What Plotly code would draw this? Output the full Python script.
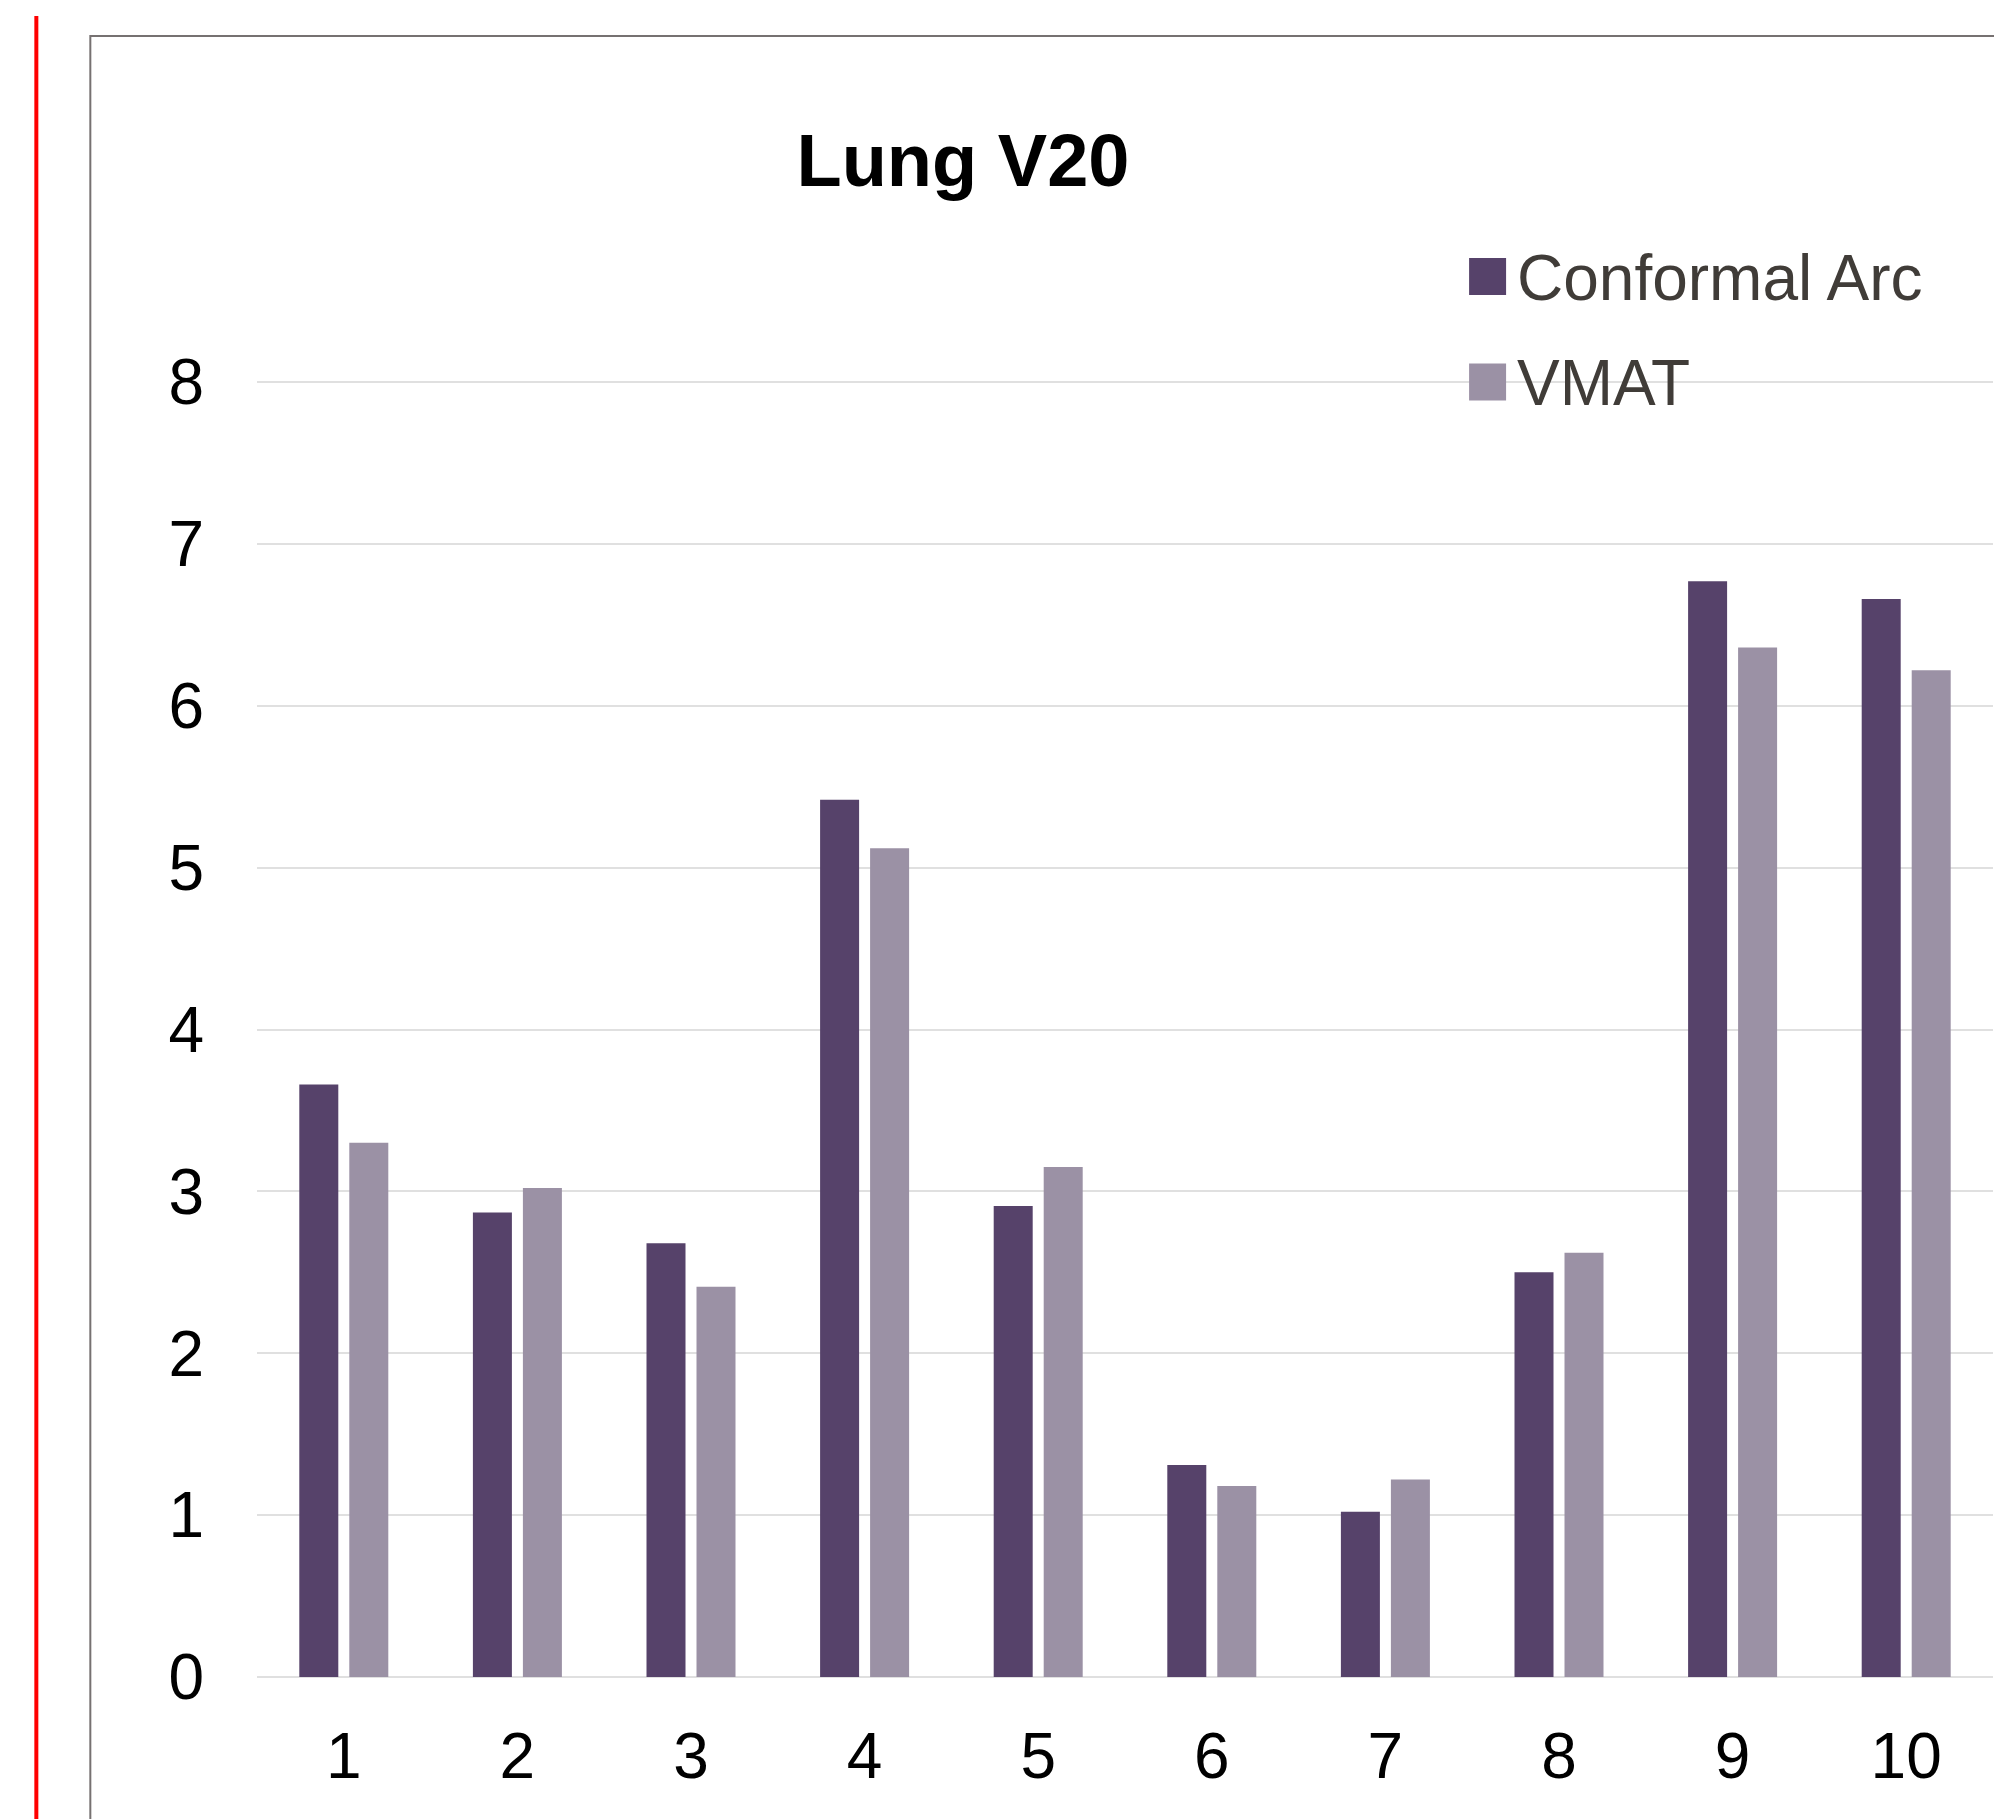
import plotly.graph_objects as go

# ---- data ----
cases = ["1", "2", "3", "4", "5", "6", "7", "8", "9", "10"]
conformal_arc = [3.66, 2.87, 2.68, 5.42, 2.91, 1.31, 1.02, 2.50, 6.77, 6.66]
vmat = [3.30, 3.02, 2.41, 5.12, 3.15, 1.18, 1.22, 2.62, 6.36, 6.22]
series_names = ["Conformal Arc", "VMAT"]
y_ticks = [0, 1, 2, 3, 4, 5, 6, 7, 8]
title_text = "Lung V20"

# ---- style ----
OFF = 8  # page body margin of the html page
W, H = 2002 - OFF, 1819 - OFF
# plot-area edges in page pixels (value 8 at T, value 0 at B)
L, R, T, B = 256.7 - OFF, 1993.0 - OFF, 382.0 - OFF, 1676.5 - OFF
YMIN, YMAX = -0.05, 8.05
PPU = (B - T) / 8.0
T_PLOT = T - (YMAX - 8) * PPU
B_PLOT = B + (0 - YMIN) * PPU

col_ca = "#56426A"
col_vmat = "#9B91A5"
font_family = "Liberation Sans, Arial, sans-serif"


def px_x(p):
    return (p - OFF - L) / (R - L)


def px_y(p):
    return (B_PLOT - (p - OFF)) / (B_PLOT - T_PLOT)


fig = go.Figure()
fig.add_trace(go.Bar(x=cases, y=conformal_arc, name=series_names[0],
                     marker=dict(color=col_ca, line=dict(width=0)), showlegend=False))
fig.add_trace(go.Bar(x=cases, y=vmat, name=series_names[1],
                     marker=dict(color=col_vmat, line=dict(width=0)), showlegend=False))

shapes = [
    # outer gray frame (extends beyond the image right/bottom)
    dict(type="rect", xref="paper", yref="paper",
         x0=px_x(90), x1=px_x(2030), y0=px_y(36), y1=px_y(1860),
         line=dict(color="#767171", width=2), fillcolor="rgba(0,0,0,0)", layer="above"),
    # red vertical line at the left
    dict(type="line", xref="paper", yref="paper",
         x0=px_x(36), x1=px_x(36), y0=px_y(16), y1=px_y(1860),
         line=dict(color="#FF0000", width=4)),
]

annotations = []
legend_rows = [(series_names[0], col_ca, 276.5), (series_names[1], col_vmat, 382.0)]
for name, col, cy in legend_rows:
    shapes.append(dict(type="rect", xref="paper", yref="paper",
                       x0=px_x(1469), x1=px_x(1506), y0=px_y(cy + 18.5), y1=px_y(cy - 18.5),
                       line=dict(width=0), fillcolor=col, layer="above"))
    annotations.append(dict(xref="paper", yref="paper", x=px_x(1515), y=px_y(cy + 1),
                            text=name, showarrow=False, xanchor="left", yanchor="middle",
                            font=dict(family=font_family, size=64, color="#403C38")))

fig.update_layout(
    width=W, height=H,
    margin=dict(l=L, r=W - R, t=T_PLOT, b=H - B_PLOT, pad=0),
    paper_bgcolor="white", plot_bgcolor="rgba(0,0,0,0)",
    barmode="group", bargap=0.424, bargroupgap=0.22,
    title=dict(text="<b>" + title_text + "</b>", xref="container", yref="container",
               x=(963 - OFF) / W, y=1 - (160 - OFF) / H, xanchor="center", yanchor="middle",
               font=dict(family=font_family, size=74, color="#000000")),
    shapes=shapes,
    annotations=annotations,
    showlegend=False,
)
fig.update_xaxes(
    type="category", showgrid=False, zeroline=False, showline=False, ticks="",
    tickfont=dict(family=font_family, size=64, color="#000000"),
    ticklabelstandoff=int(round(36 - (0 - YMIN) * PPU)),
)
fig.update_yaxes(
    range=[YMIN, YMAX], tickvals=y_ticks, ticktext=[str(v) for v in y_ticks],
    showgrid=True, gridcolor="#E0E0E0", gridwidth=2,
    zeroline=False, showline=False, ticks="",
    tickfont=dict(family=font_family, size=64, color="#000000"),
    ticklabelstandoff=52,
)

fig.write_html("out.html")
